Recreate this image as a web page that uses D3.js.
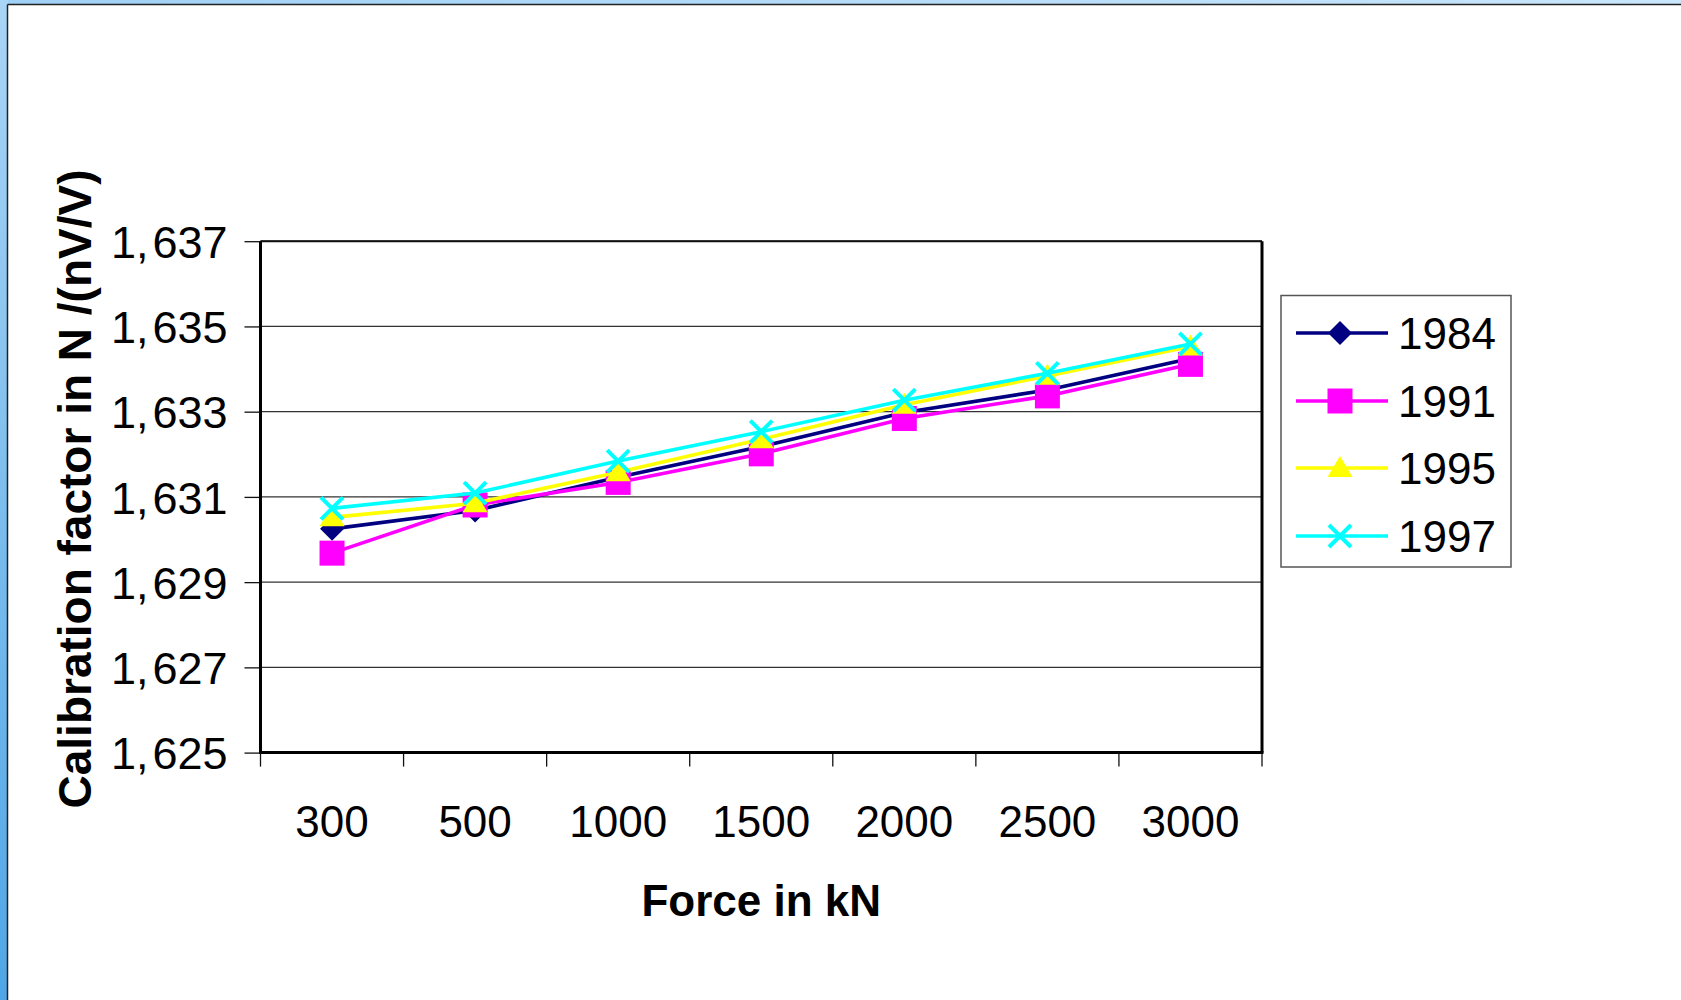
<!DOCTYPE html>
<html>
<head>
<meta charset="utf-8">
<script src="https://cdn.jsdelivr.net/npm/d3@7"></script>
<style>
  html, body { margin: 0; padding: 0; background: #fff; }
  svg { display: block; }
  text { font-family: "Liberation Sans", Arial, sans-serif; }
</style>
</head>
<body>
<svg id="chart" width="1681" height="1000"></svg>
<script>
// ---- data ----
const categories = ["300", "500", "1000", "1500", "2000", "2500", "3000"];
const seriesNames = ["1984", "1991", "1995", "1997"];
const s1984 = [1.63025, 1.63068, 1.63146, 1.63218, 1.63298, 1.63351, 1.63425];
const s1991 = [1.62968, 1.63081, 1.63134, 1.63201, 1.63284, 1.63337, 1.63411];
const s1995 = [1.63052, 1.63085, 1.63158, 1.63235, 1.63316, 1.63384, 1.63453];
const s1997 = [1.63073, 1.63109, 1.63184, 1.63253, 1.63327, 1.63390, 1.63459];
const yTicks = [1.625, 1.627, 1.629, 1.631, 1.633, 1.635, 1.637];
const yTickLabels = ["1,625", "1,627", "1,629", "1,631", "1,633", "1,635", "1,637"];
const xTitle = "Force in kN";
const yTitle = "Calibration factor in N /(nV/V)";

const seriesValues = [s1984, s1991, s1995, s1997];
const colors = ["#000080", "#FF00FF", "#FFFF00", "#00FFFF"];
const markers = ["diamond", "square", "triangle", "x"];

const svg = d3.select("#chart");

// ---- frame background ----
const defs = svg.append("defs");
const g1 = defs.append("linearGradient").attr("id", "leftGrad").attr("x1", 0).attr("y1", 0).attr("x2", 0).attr("y2", 1);
g1.append("stop").attr("offset", "0%").attr("stop-color", "#a9d5f6");
g1.append("stop").attr("offset", "100%").attr("stop-color", "#4fa6e6");
const g2 = defs.append("linearGradient").attr("id", "topGrad").attr("x1", 0).attr("y1", 0).attr("x2", 1).attr("y2", 0);
g2.append("stop").attr("offset", "0%").attr("stop-color", "#9fd0f5");
g2.append("stop").attr("offset", "100%").attr("stop-color", "#c9e6fb");

svg.append("rect").attr("x", 0).attr("y", 0).attr("width", 1681).attr("height", 5).attr("fill", "url(#topGrad)");
svg.append("rect").attr("x", 0).attr("y", 0).attr("width", 8).attr("height", 1000).attr("fill", "url(#leftGrad)");
svg.append("line").attr("x1", 7.5).attr("x2", 1681).attr("y1", 4.5).attr("y2", 4.5).attr("stroke", "#222").attr("stroke-width", 1.5);
svg.append("line").attr("x1", 7.5).attr("x2", 7.5).attr("y1", 4.5).attr("y2", 1000).attr("stroke", "#222").attr("stroke-width", 1.5);

// ---- scales ----
const plot = { left: 260.5, right: 1262, top: 241.2, bottom: 752.6 };
const x = d3.scaleBand().domain(categories).range([plot.left, plot.right]).padding(0);
const y = d3.scaleLinear().domain([1.625, 1.637]).range([plot.bottom, plot.top]);
const cx = c => x(c) + x.bandwidth() / 2;

// ---- gridlines ----
svg.append("g").selectAll("line").data(yTicks.slice(1)).join("line")
  .attr("x1", plot.left).attr("x2", plot.right)
  .attr("y1", d => y(d)).attr("y2", d => y(d))
  .attr("stroke", "#333").attr("stroke-width", 1.3);

// ---- y axis ----
const yAxis = d3.axisLeft(y).tickValues(yTicks)
  .tickFormat((d, i) => yTickLabels[i]).tickSize(16).tickPadding(17);
const gy = svg.append("g").attr("transform", `translate(${plot.left},0)`).call(yAxis);
gy.select(".domain").remove();
gy.selectAll(".tick line").attr("stroke", "#111").attr("stroke-width", 1.3);
gy.selectAll(".tick text").attr("font-size", 45).attr("fill", "#000").attr("dy", "0.36em")
  .each(function () {
    const t = d3.select(this);
    const parts = t.text().split(",");
    t.text(null);
    t.append("tspan").text(parts[0] + ",");
    t.append("tspan").attr("dx", 4).text(parts[1]);
  });

// ---- x axis (category boundaries as ticks) ----
const boundaries = d3.range(categories.length + 1).map(i => plot.left + i * x.bandwidth());
svg.append("g").selectAll("line").data(boundaries).join("line")
  .attr("x1", d => d).attr("x2", d => d)
  .attr("y1", plot.bottom).attr("y2", plot.bottom + 14)
  .attr("stroke", "#111").attr("stroke-width", 1.3);
svg.append("g").selectAll("text").data(categories).join("text")
  .attr("x", d => cx(d)).attr("y", 836.5)
  .attr("text-anchor", "middle").attr("font-size", 44).attr("fill", "#000")
  .text(d => d);

// ---- plot border ----
svg.append("line").attr("x1", plot.left).attr("x2", plot.right).attr("y1", plot.top).attr("y2", plot.top)
  .attr("stroke", "#111").attr("stroke-width", 2);
svg.append("line").attr("x1", plot.right).attr("x2", plot.right).attr("y1", plot.top).attr("y2", plot.bottom)
  .attr("stroke", "#000").attr("stroke-width", 3);
svg.append("line").attr("x1", plot.left).attr("x2", plot.left).attr("y1", plot.top).attr("y2", plot.bottom + 1.5)
  .attr("stroke", "#000").attr("stroke-width", 3);
svg.append("line").attr("x1", plot.left).attr("x2", plot.right + 1.5).attr("y1", plot.bottom).attr("y2", plot.bottom)
  .attr("stroke", "#000").attr("stroke-width", 3);

// ---- marker drawing ----
function drawMarker(sel, type, color, px, py) {
  if (type === "diamond") {
    const h = 12;
    sel.append("path").attr("d", `M${px},${py - h}L${px + h},${py}L${px},${py + h}L${px - h},${py}Z`).attr("fill", color);
  } else if (type === "square") {
    const h = 12.5;
    sel.append("rect").attr("x", px - h).attr("y", py - h).attr("width", 2 * h).attr("height", 2 * h).attr("fill", color);
  } else if (type === "triangle") {
    sel.append("path").attr("d", `M${px},${py - 12}L${px + 12.5},${py + 9}L${px - 12.5},${py + 9}Z`).attr("fill", color);
  } else if (type === "x") {
    const h = 11;
    sel.append("path").attr("d", `M${px - h},${py - h}L${px + h},${py + h}M${px - h},${py + h}L${px + h},${py - h}`)
      .attr("stroke", color).attr("stroke-width", 4).attr("fill", "none");
  }
}

// ---- series ----
const line = d3.line().x((d, i) => cx(categories[i])).y(d => y(d));
seriesValues.forEach((vals, si) => {
  const g = svg.append("g");
  g.append("path").datum(vals).attr("d", line)
    .attr("fill", "none").attr("stroke", colors[si]).attr("stroke-width", 3.6);
  vals.forEach((v, i) => drawMarker(g, markers[si], colors[si], cx(categories[i]), y(v)));
});

// ---- legend ----
const leg = svg.append("g");
leg.append("rect").attr("x", 1281).attr("y", 295.5).attr("width", 230).attr("height", 271.5)
  .attr("fill", "#fff").attr("stroke", "#555").attr("stroke-width", 1.5);
const rowY = [333, 401, 468, 536];
seriesNames.forEach((name, i) => {
  const ry = rowY[i];
  leg.append("line").attr("x1", 1296).attr("x2", 1388).attr("y1", ry).attr("y2", ry)
    .attr("stroke", colors[i]).attr("stroke-width", 3.6);
  drawMarker(leg, markers[i], colors[i], 1340, ry);
  leg.append("text").attr("x", 1398).attr("y", ry).attr("dy", "0.36em")
    .attr("font-size", 44).attr("fill", "#000").text(name);
});

// ---- axis titles ----
svg.append("text").attr("x", (plot.left + plot.right) / 2).attr("y", 916)
  .attr("text-anchor", "middle").attr("font-size", 44).attr("font-weight", "bold").attr("fill", "#000")
  .text(xTitle);
svg.append("text").attr("transform", "translate(91,489) rotate(-90)")
  .attr("text-anchor", "middle").attr("font-size", 46).attr("font-weight", "bold").attr("fill", "#000")
  .text(yTitle);
</script>
</body>
</html>
